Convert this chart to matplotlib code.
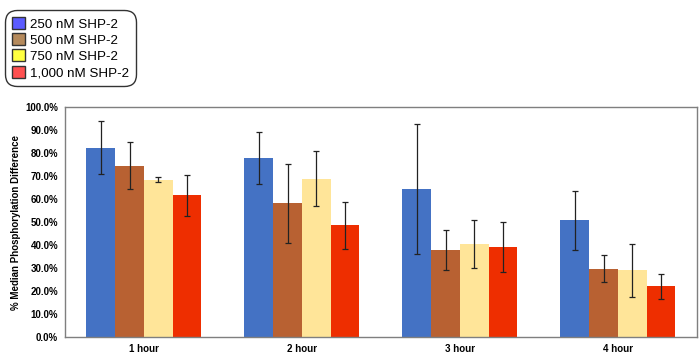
import matplotlib
matplotlib.use("Agg")
import matplotlib.pyplot as plt
import numpy as np
from matplotlib.patches import Patch

plt.rcParams['font.family'] = ['Liberation Sans', 'DejaVu Sans']

categories = ["1 hour", "2 hour", "3 hour", "4 hour"]
series_names = ["250 nM SHP-2", "500 nM SHP-2", "750 nM SHP-2", "1,000 nM SHP-2"]
vals_250 = [82.3, 78.0, 64.5, 50.7]
vals_500 = [74.5, 58.1, 38.0, 29.7]
vals_750 = [68.4, 68.8, 40.4, 29.1]
vals_1000 = [61.6, 48.5, 39.0, 22.0]
err_250 = [11.5, 11.3, 28.3, 13.0]
err_500 = [10.3, 17.2, 8.7, 5.9]
err_750 = [1.2, 12.0, 10.5, 11.5]
err_1000 = [8.8, 10.2, 10.9, 5.6]

bar_colors = ["#4472C4", "#B86132", "#FFE599", "#EE2E00"]
legend_colors = ["#5B5BFF", "#B58A5C", "#FFFF40", "#FF5050"]

fig = plt.figure(figsize=(6.99, 3.63), dpi=100)
ax = fig.add_axes([0.093, 0.0716, 0.904, 0.6336])

x = np.arange(len(categories))
width = 0.182
all_vals = [vals_250, vals_500, vals_750, vals_1000]
all_errs = [err_250, err_500, err_750, err_1000]
for i, (v, e, c) in enumerate(zip(all_vals, all_errs, bar_colors)):
    pos = x + (i - 1.5) * width
    ax.bar(pos, v, width, color=c, zorder=2)
    ax.errorbar(pos, v, yerr=e, fmt='none', ecolor='#222222', elinewidth=0.9,
                capsize=2.5, capthick=0.9, zorder=3)

ax.set_xlim(-0.5, len(categories) - 0.5)
ax.set_ylim(0, 100)
ax.set_yticks(np.arange(0, 101, 10))
ax.set_yticklabels([f"{t:.1f}%" for t in np.arange(0, 101, 10)], fontsize=7, fontweight='bold')
ax.set_xticks(x)
ax.set_xticklabels(categories, fontsize=7, fontweight='bold')
ax.tick_params(length=0, pad=5)
for s in ax.spines.values():
    s.set_color('#7F7F7F')
    s.set_linewidth(1.0)
ax.set_ylabel("% Median Phosphorylation Difference", fontsize=7, fontweight='bold', labelpad=3)

handles = [Patch(facecolor=c, edgecolor='#333333', linewidth=1.0) for c in legend_colors]
leg = fig.legend(handles, series_names, loc='upper left', bbox_to_anchor=(0.011, 0.964),
                 fontsize=9.6, frameon=True, fancybox=True, edgecolor='black',
                 handlelength=1.0, handleheight=1.0, handletextpad=0.4,
                 labelspacing=0.2, borderpad=0.3, borderaxespad=0)
leg.get_frame().set_linewidth(1.0)
leg.get_frame().set_boxstyle('round,pad=0.2,rounding_size=0.9')

fig.savefig("out.png", dpi=100)
